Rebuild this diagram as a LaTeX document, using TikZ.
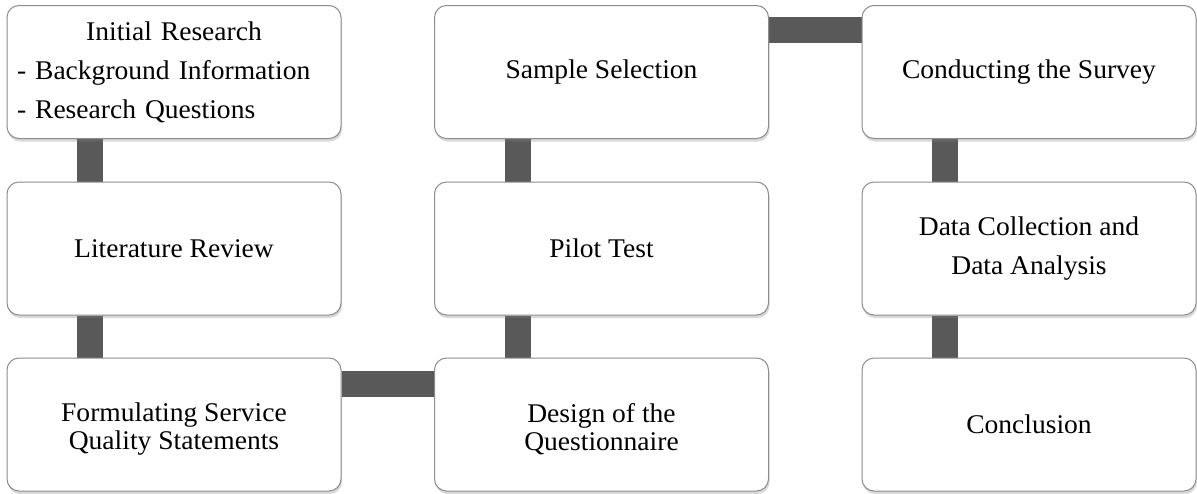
\documentclass[tikz,border=0pt]{standalone}
\usepackage{fontspec}
\setmainfont{Liberation Serif}[FakeStretch=1.02]
\usetikzlibrary{shadows,backgrounds}
\definecolor{conncol}{HTML}{595959}
\definecolor{edgecol}{HTML}{8C8C8C}
\tikzset{
  stepbox/.style={draw=edgecol, line width=1pt, fill=white, rounded corners=12pt,
    minimum width=334pt, minimum height=133pt, inner sep=0pt, align=center,
    font=\fontsize{27}{39}\selectfont,
    drop shadow={opacity=0.3, shadow xshift=1pt, shadow yshift=-3pt}},
  conn/.style={draw=conncol, line width=26pt}
}
\begin{document}
\begin{tikzpicture}[x=1pt,y=-1pt]
\useasboundingbox (0,0) rectangle (1197,493);
\node[stepbox, align=left, text width=314pt, inner xsep=10pt] (a) at (174,72)
  {\hfill Initial Research\hfill\null\\- Background Information\\- Research Questions};
\node[stepbox] (b) at (174,248.5) {Literature Review};
\node[stepbox, font=\fontsize{27}{28}\selectfont] (c) at (174,424.5) {\rule{0pt}{28pt}Formulating Service\\Quality Statements};
\node[stepbox, font=\fontsize{27}{28}\selectfont] (d) at (601.5,424.5) {\rule{0pt}{28pt}Design of the\\Questionnaire};
\node[stepbox] (e) at (601.5,248.5) {Pilot Test};
\node[stepbox] (f) at (601.5,72) {Sample Selection};
\node[stepbox] (g) at (1029,72) {Conducting the Survey};
\node[stepbox] (h) at (1029,248.5) {Data Collection and\\Data Analysis};
\node[stepbox] (i) at (1029,424.5) {Conclusion};
\begin{scope}[on background layer]
\draw[conn] ([xshift=83.5pt]a.south west) -- ([xshift=83.5pt]b.north west);
\draw[conn] ([xshift=83.5pt]b.south west) -- ([xshift=83.5pt]c.north west);
\draw[conn] ([yshift=-26pt]c.north east) -- ([yshift=-26pt]d.north west);
\draw[conn] ([xshift=83.5pt]d.north west) -- ([xshift=83.5pt]e.south west);
\draw[conn] ([xshift=83.5pt]e.north west) -- ([xshift=83.5pt]f.south west);
\draw[conn] ([yshift=-25pt]f.north east) -- ([yshift=-25pt]g.north west);
\draw[conn] ([xshift=83.5pt]g.south west) -- ([xshift=83.5pt]h.north west);
\draw[conn] ([xshift=83.5pt]h.south west) -- ([xshift=83.5pt]i.north west);
\end{scope}
\end{tikzpicture}
\end{document}
